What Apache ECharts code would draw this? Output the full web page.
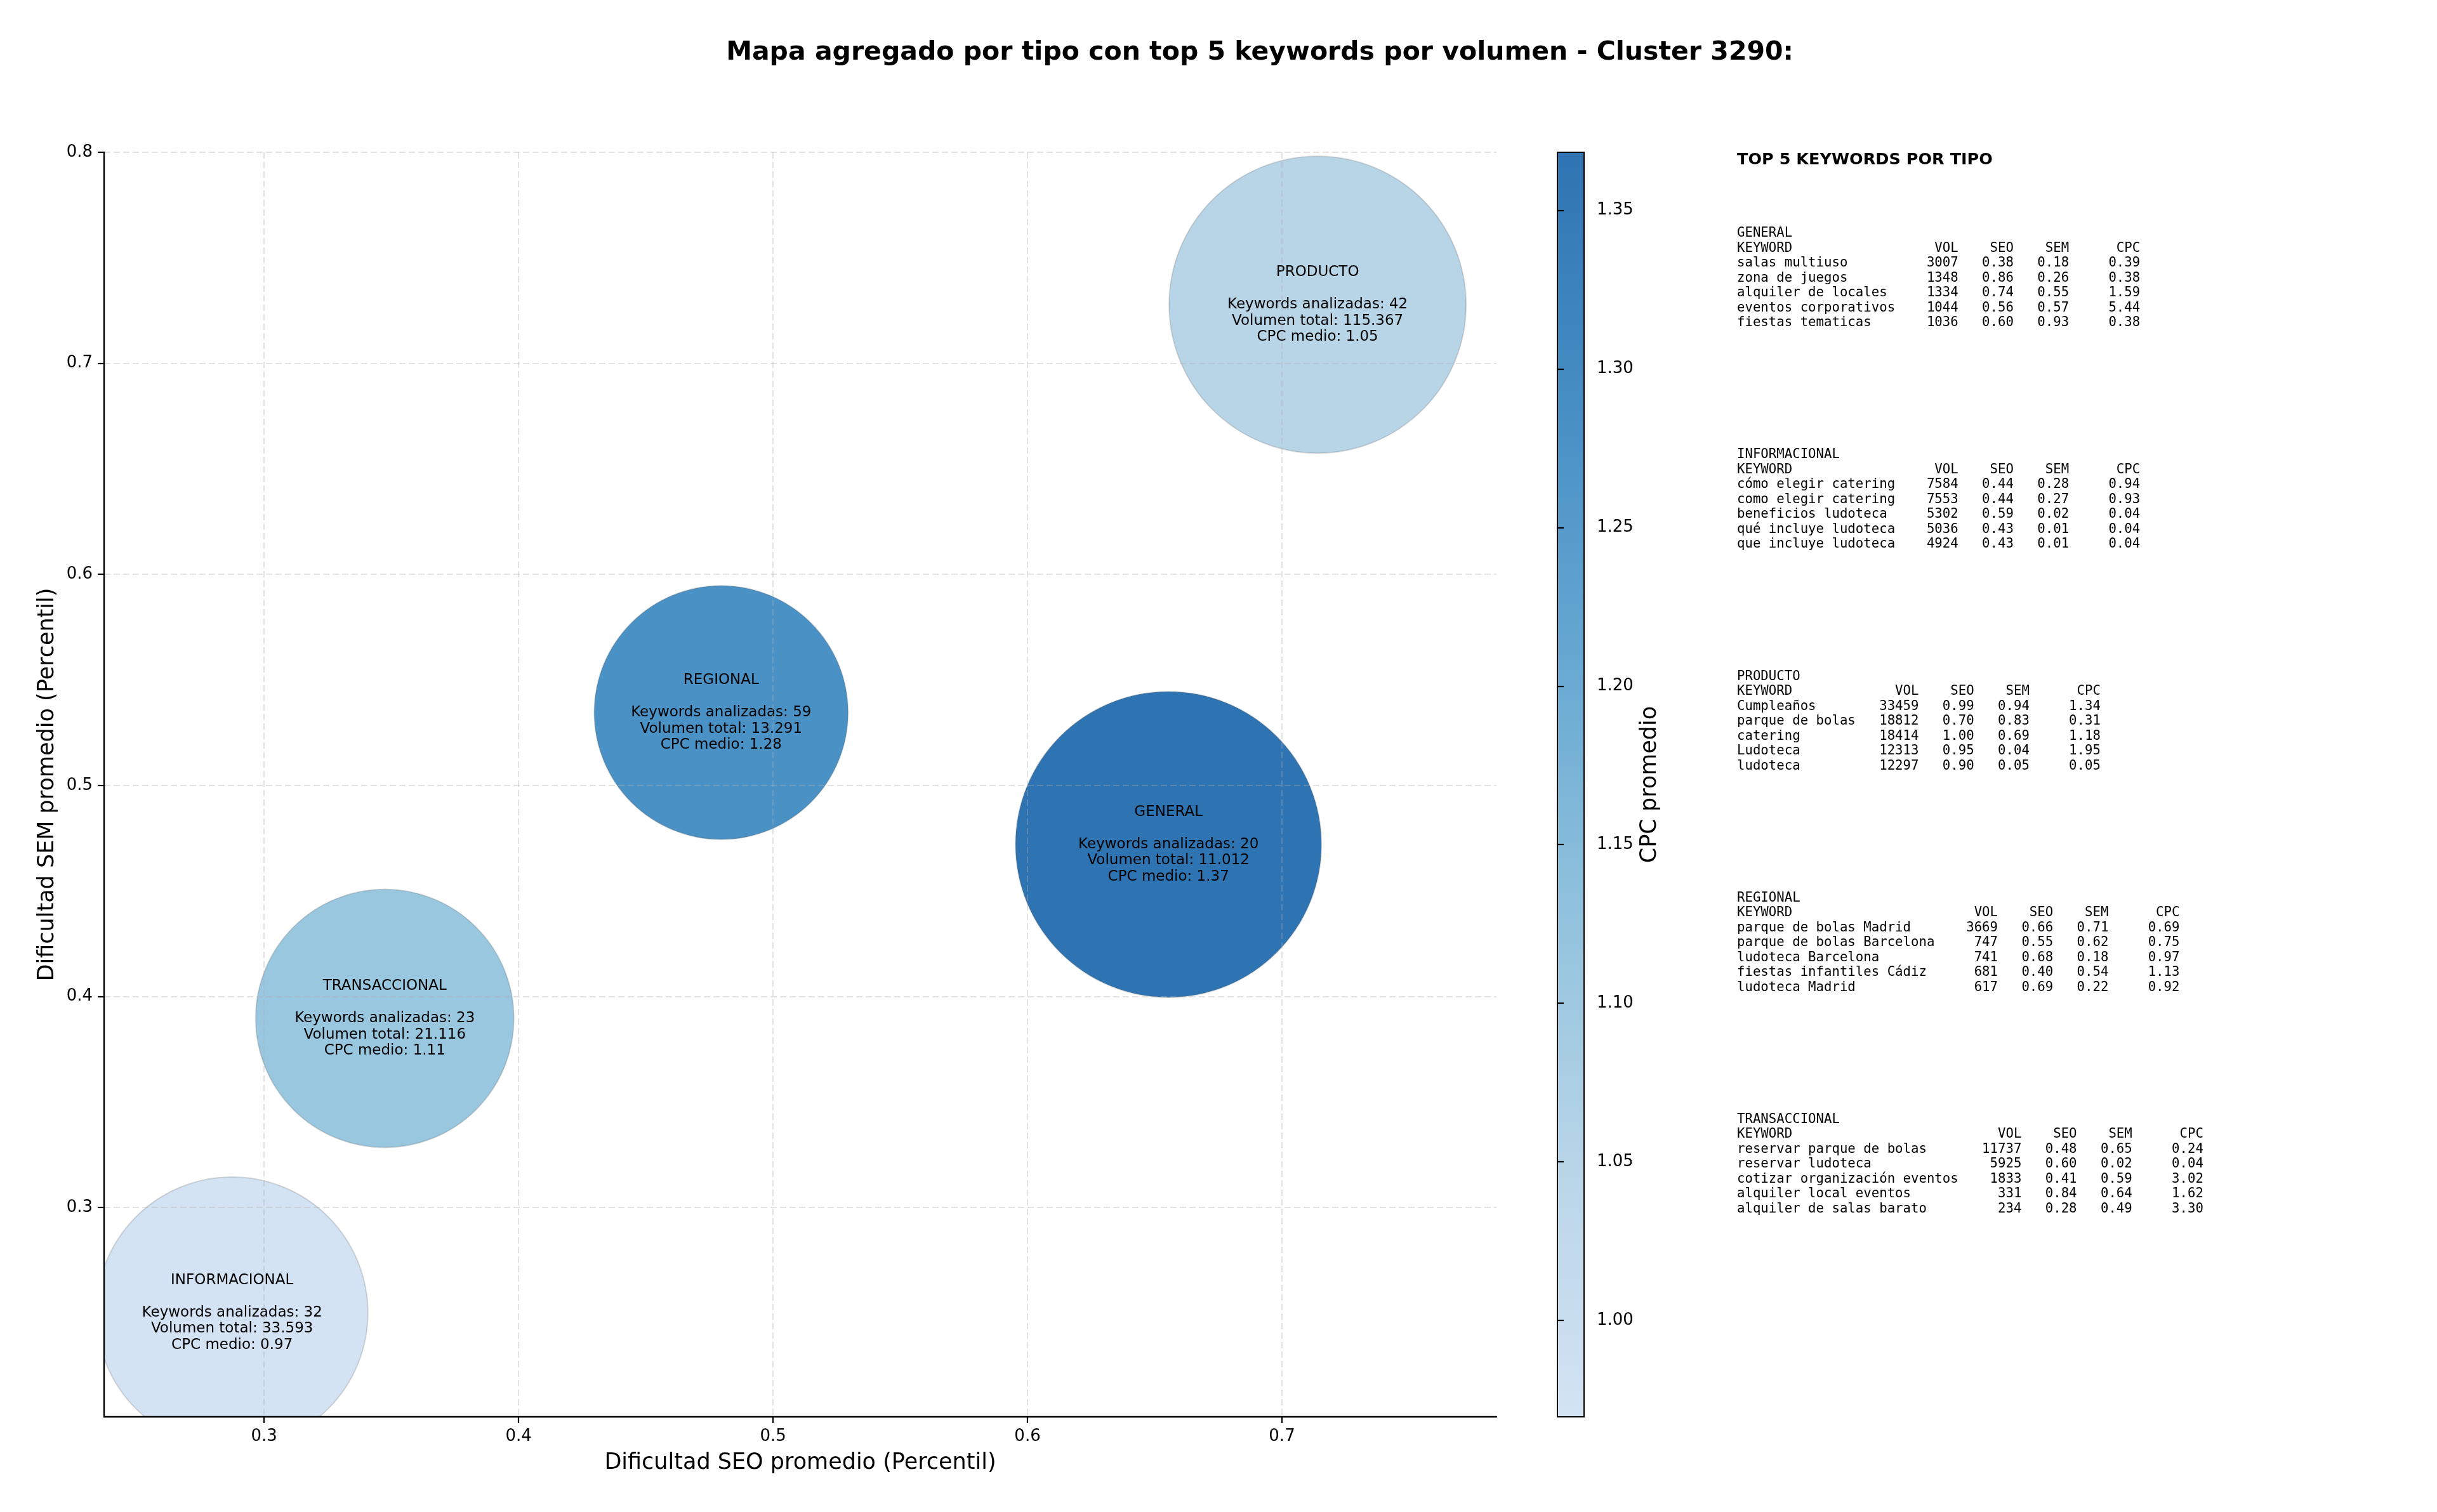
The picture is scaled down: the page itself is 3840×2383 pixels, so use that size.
<!DOCTYPE html>
<html>
<head>
<meta charset="utf-8">
<script src="https://cdn.jsdelivr.net/npm/echarts@6/dist/echarts.min.js"></script>
<style>
html,body{margin:0;padding:0;background:#ffffff;}
#chart{width:3840px;height:2383px;}
</style>
</head>
<body>
<div id="chart"></div>
<script>
// ---------- DATA ----------
const titleText = 'Mapa agregado por tipo con top 5 keywords por volumen - Cluster 3290:';
const types = ['GENERAL', 'INFORMACIONAL', 'PRODUCTO', 'REGIONAL', 'TRANSACCIONAL'];
const seoAvg = [0.6554, 0.2874, 0.7140, 0.4796, 0.3474];
const semAvg = [0.4720, 0.2501, 0.7278, 0.5345, 0.3896];
const cpcAvg = [1.37, 0.97, 1.05, 1.28, 1.11];
const keywordCount = [20, 32, 42, 59, 23];
const totalVolume = [11012, 33593, 115367, 13291, 21116];
const bubbleSize = [482, 428, 468, 400, 407];
const cpcScaleMin = 0.9696;
const cpcScaleMax = 1.3683;

const xTicks = [0.3, 0.4, 0.5, 0.6, 0.7];
const yTicks = [0.3, 0.4, 0.5, 0.6, 0.7, 0.8];
const cbTicks = [1.00, 1.05, 1.10, 1.15, 1.20, 1.25, 1.30, 1.35];

const topGeneral = [
  ['salas multiuso', 3007, 0.38, 0.18, 0.39],
  ['zona de juegos', 1348, 0.86, 0.26, 0.38],
  ['alquiler de locales', 1334, 0.74, 0.55, 1.59],
  ['eventos corporativos', 1044, 0.56, 0.57, 5.44],
  ['fiestas tematicas', 1036, 0.60, 0.93, 0.38]
];
const topInformacional = [
  ['cómo elegir catering', 7584, 0.44, 0.28, 0.94],
  ['como elegir catering', 7553, 0.44, 0.27, 0.93],
  ['beneficios ludoteca', 5302, 0.59, 0.02, 0.04],
  ['qué incluye ludoteca', 5036, 0.43, 0.01, 0.04],
  ['que incluye ludoteca', 4924, 0.43, 0.01, 0.04]
];
const topProducto = [
  ['Cumpleaños', 33459, 0.99, 0.94, 1.34],
  ['parque de bolas', 18812, 0.70, 0.83, 0.31],
  ['catering', 18414, 1.00, 0.69, 1.18],
  ['Ludoteca', 12313, 0.95, 0.04, 1.95],
  ['ludoteca', 12297, 0.90, 0.05, 0.05]
];
const topRegional = [
  ['parque de bolas Madrid', 3669, 0.66, 0.71, 0.69],
  ['parque de bolas Barcelona', 747, 0.55, 0.62, 0.75],
  ['ludoteca Barcelona', 741, 0.68, 0.18, 0.97],
  ['fiestas infantiles Cádiz', 681, 0.40, 0.54, 1.13],
  ['ludoteca Madrid', 617, 0.69, 0.22, 0.92]
];
const topTransaccional = [
  ['reservar parque de bolas', 11737, 0.48, 0.65, 0.24],
  ['reservar ludoteca', 5925, 0.60, 0.02, 0.04],
  ['cotizar organización eventos', 1833, 0.41, 0.59, 3.02],
  ['alquiler local eventos', 331, 0.84, 0.64, 1.62],
  ['alquiler de salas barato', 234, 0.28, 0.49, 3.30]
];
const tableBlocks = [
  ['GENERAL', topGeneral],
  ['INFORMACIONAL', topInformacional],
  ['PRODUCTO', topProducto],
  ['REGIONAL', topRegional],
  ['TRANSACCIONAL', topTransaccional]
];

// ---------- STYLE ----------
const cmap = ['#d3e3f3', '#b8d5e8', '#91c2dd', '#66a8d2', '#478ec4', '#2f74b2'];
const FONT = '"DejaVu Sans", "Liberation Sans", sans-serif';
const MONO = '"DejaVu Sans Mono", "Liberation Mono", monospace';
const G = {left: 164, top: 240, width: 2194, height: 1993};
const CB = {left: 2454, top: 240, width: 42, height: 1993};

function fmtVol(v) { return String(v).replace(/\B(?=(\d{3})+(?!\d))/g, '.'); }

function tableBlock(name, rows) {
  const w = Math.max.apply(null, rows.map(r => r[0].length));
  const lines = [name,
    'KEYWORD'.padEnd(w) + 'VOL'.padStart(8) + 'SEO'.padStart(7) + 'SEM'.padStart(7) + 'CPC'.padStart(9)];
  rows.forEach(r => {
    lines.push(r[0].padEnd(w) + String(r[1]).padStart(8) + r[2].toFixed(2).padStart(7) +
      r[3].toFixed(2).padStart(7) + r[4].toFixed(2).padStart(9));
  });
  return lines.join('\n');
}

const bubbleData = types.map((t, i) => [seoAvg[i], semAvg[i], cpcAvg[i], bubbleSize[i], i]);

const graphics = [];
graphics.push({
  type: 'text', x: 1985, y: 83, z: 10,
  style: {text: titleText, font: 'bold 41px ' + FONT, fill: '#000', textAlign: 'center', textVerticalAlign: 'middle'}
});
graphics.push({
  type: 'text', x: 2737, y: 252, z: 10,
  style: {text: 'TOP 5 KEYWORDS POR TIPO', font: 'bold 25.5px ' + FONT, fill: '#000', textAlign: 'left', textVerticalAlign: 'middle'}
});
tableBlocks.forEach((b, i) => {
  graphics.push({
    type: 'text', x: 2737, y: 356 + i * 349.2, z: 10,
    style: {text: tableBlock(b[0], b[1]), font: '20.7px ' + MONO, fill: '#000', lineHeight: 23.5,
      textAlign: 'left', textVerticalAlign: 'top'}
  });
});
// colorbar gradient
graphics.push({
  type: 'rect', z: -1,
  shape: {x: CB.left, y: CB.top, width: CB.width, height: CB.height},
  style: {fill: new echarts.graphic.LinearGradient(0, 1, 0, 0,
    cmap.map((c, i) => ({offset: i / (cmap.length - 1), color: c})))}
});

const axisText = {color: '#000', fontFamily: FONT};

const option = {
  backgroundColor: '#ffffff',
  animation: false,
  grid: [
    {left: G.left, top: G.top, width: G.width, height: G.height, outerBoundsMode: 'none', show: false},
    {left: CB.left, top: CB.top, width: CB.width, height: CB.height, outerBoundsMode: 'none',
     show: true, borderColor: '#000', borderWidth: 2, backgroundColor: 'transparent'}
  ],
  xAxis: [
    {
      type: 'value', gridIndex: 0, min: 0.2371, max: 0.7843, z: 3,
      name: 'Dificultad SEO promedio (Percentil)', nameLocation: 'middle', nameGap: 55,
      nameTextStyle: Object.assign({fontSize: 35}, axisText),
      axisLine: {show: true, onZero: false, lineStyle: {color: '#000', width: 2.4}},
      axisTick: {show: true, customValues: xTicks, length: 10, lineStyle: {color: '#000', width: 2.2}},
      axisLabel: {show: true, customValues: xTicks, margin: 18, fontSize: 26, color: '#000', fontFamily: FONT,
        formatter: v => v.toFixed(1)},
      splitLine: {show: true, lineStyle: {color: '#b0b0b0', opacity: 0.35, width: 2, type: [10, 5]}}
    },
    {type: 'value', gridIndex: 1, min: 0, max: 1, show: false}
  ],
  yAxis: [
    {
      type: 'value', gridIndex: 0, min: 0.2008, max: 0.8, z: 3,
      name: 'Dificultad SEM promedio (Percentil)', nameLocation: 'middle', nameGap: 72, nameRotate: 90,
      nameTextStyle: Object.assign({fontSize: 35}, axisText),
      axisLine: {show: true, onZero: false, lineStyle: {color: '#000', width: 2.4}},
      axisTick: {show: true, customValues: yTicks, length: 10, lineStyle: {color: '#000', width: 2.2}},
      axisLabel: {show: true, customValues: yTicks, margin: 18, fontSize: 26, color: '#000', fontFamily: FONT,
        formatter: v => v.toFixed(1)},
      splitLine: {show: true, lineStyle: {color: '#b0b0b0', opacity: 0.35, width: 2, type: [10, 5]}}
    },
    {
      type: 'value', gridIndex: 1, min: cpcScaleMin, max: cpcScaleMax, position: 'right', z: 3,
      name: 'CPC promedio', nameLocation: 'middle', nameGap: 86, nameRotate: 90,
      nameTextStyle: Object.assign({fontSize: 35}, axisText),
      axisLine: {show: true, lineStyle: {color: '#000', width: 2}},
      axisTick: {show: true, customValues: cbTicks, length: 10, lineStyle: {color: '#000', width: 2.2}},
      axisLabel: {show: true, customValues: cbTicks, margin: 20, fontSize: 26, color: '#000', fontFamily: FONT,
        formatter: v => v.toFixed(2)},
      splitLine: {show: false}
    }
  ],
  visualMap: [{
    type: 'continuous', show: false, seriesIndex: 0, dimension: 2,
    min: cpcScaleMin, max: cpcScaleMax, inRange: {color: cmap}
  }],
  series: [{
    type: 'custom',
    xAxisIndex: 0, yAxisIndex: 0,
    clip: true,
    z: 2,
    data: bubbleData,
    renderItem: function (params, api) {
      const p = api.coord([api.value(0), api.value(1)]);
      const r = api.value(3) / 2;
      const i = api.value(4);
      const label = types[i] + '\n\nKeywords analizadas: ' + keywordCount[i] +
        '\nVolumen total: ' + fmtVol(totalVolume[i]) + '\nCPC medio: ' + cpcAvg[i].toFixed(2);
      return {
        type: 'group',
        children: [
          {type: 'circle', shape: {cx: p[0], cy: p[1], r: r},
           style: {fill: api.visual('color'), stroke: 'rgba(90,90,90,0.22)', lineWidth: 2}},
          {type: 'text', x: p[0], y: p[1],
           style: {text: label, font: '23px ' + FONT, fill: '#000', textAlign: 'center',
             textVerticalAlign: 'middle', lineHeight: 25.5}}
        ]
      };
    }
  }],
  graphic: {elements: graphics}
};

const chart = echarts.init(document.getElementById('chart'), null, {renderer: 'canvas', width: 3840, height: 2383});
chart.setOption(option);
</script>
</body>
</html>
